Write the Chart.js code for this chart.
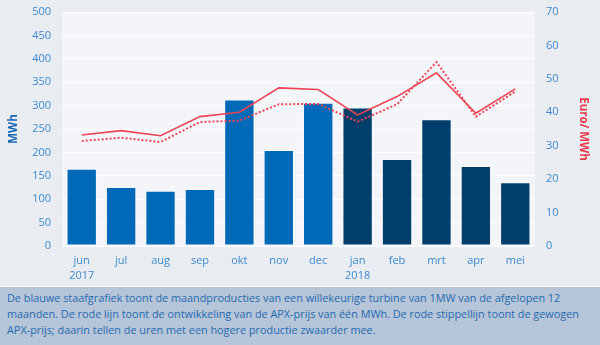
<!DOCTYPE html>
<html>
<head>
<meta charset="utf-8">
<script src="https://cdn.jsdelivr.net/npm/chart.js@4/dist/chart.umd.min.js"></script>
<style>
  html, body { margin: 0; padding: 0; width: 600px; height: 345px; overflow: hidden; background: #e9ecf0; }
  #wrap { position: relative; width: 600px; height: 286px; }
  #sep { height: 1px; background: #ffffff; }
  #cap { height: 58px; background: #b6c5d7; color: #1f6bb3; font-family: "Open Sans", sans-serif; font-size: 10.85px; line-height: 16px; padding: 3px 10px 0 7px; box-sizing: border-box; }
</style>
</head>
<body>
<div id="wrap"><canvas id="c" width="600" height="286"></canvas></div>
<div id="sep"></div>
<div id="cap">De blauwe staafgrafiek toont de maandproducties van een willekeurige turbine van 1MW van de afgelopen 12 maanden. De rode lijn toont de ontwikkeling van de APX-prijs van één MWh. De rode stippellijn toont de gewogen APX-prijs; daarin tellen de uren met een hogere productie zwaarder mee.</div>
<script>
const months = [['jun','2017'],'jul','aug','sep','okt','nov','dec',['jan','2018'],'feb','mrt','apr','mei'];
const production = [165, 126, 118, 122, 313, 205, 306, 296, 186, 271, 171, 136];
const apxPrice = [33.2, 34.5, 33.0, 38.7, 40.0, 47.3, 46.8, 39.2, 44.7, 51.8, 39.7, 47.0];
const apxWeighted = [31.4, 32.4, 31.1, 37.1, 37.5, 42.4, 42.5, 37.2, 42.4, 55.0, 38.7, 46.2];
const barColors = ['#006ab9','#006ab9','#006ab9','#006ab9','#006ab9','#006ab9','#006ab9','#003e6c','#003e6c','#003e6c','#003e6c','#003e6c'];

const bgPlugin = {
  id: 'bg',
  beforeDraw(chart) {
    const {ctx, chartArea: a} = chart;
    ctx.save();
    ctx.fillStyle = '#e9ecf0';
    ctx.fillRect(0, 0, chart.width, chart.height);
    ctx.fillStyle = '#f4f5f9';
    ctx.fillRect(a.left, a.top, a.right - a.left, a.bottom - a.top);
    ctx.restore();
  }
};

const tickFont = { family: '"Open Sans", sans-serif', size: 11 };
new Chart(document.getElementById('c'), {
  type: 'bar',
  data: {
    labels: months,
    datasets: [
      { type: 'line', data: apxPrice, yAxisID: 'y1', borderColor: '#ee4453', borderWidth: 1.6, pointRadius: 0, fill: false, tension: 0, order: 1 },
      { type: 'line', data: apxWeighted, yAxisID: 'y1', borderColor: '#ee4453', borderWidth: 2, borderDash: [2, 2], pointRadius: 0, fill: false, tension: 0, order: 2 },
      { type: 'bar', data: production, yAxisID: 'y', backgroundColor: barColors, borderColor: 'rgba(255,255,255,0.35)', borderWidth: 1, borderSkipped: false, barPercentage: 0.77, categoryPercentage: 1, order: 3 }
    ]
  },
  options: {
    responsive: false,
    animation: false,
    layout: { padding: { top: 12, left: 0, right: 0, bottom: 0 } },
    plugins: { legend: { display: false }, tooltip: { enabled: false } },
    scales: {
      x: {
        grid: { display: false },
        border: { display: false },
        ticks: { color: '#3b8ad0', font: { family: '"Open Sans", sans-serif', size: 11, lineHeight: 1.3 }, padding: 0, maxRotation: 0, autoSkip: false },
        afterFit(s) { s.height = 40; }
      },
      y: {
        position: 'left', min: 0, max: 500,
        grid: { color: '#ffffff', lineWidth: 1, drawTicks: false },
        border: { display: false },
        ticks: { stepSize: 50, color: '#3b8ad0', font: tickFont, padding: 11 },
        title: { display: true, text: 'MWh', color: '#1767b6', font: { family: '"Open Sans", sans-serif', size: 11.5, weight: 'bold' }, padding: { top: 7, bottom: 0 } },
        afterFit(s) { s.width = 62; s.paddingTop = 0; s.paddingBottom = 0; }
      },
      y1: {
        position: 'right', min: 0, max: 70,
        grid: { display: false, drawTicks: false },
        border: { display: false },
        ticks: { stepSize: 10, color: '#3b8ad0', font: tickFont, padding: 11 },
        title: { display: true, text: 'Euro/ MWh', color: '#e8394a', font: { family: '"Open Sans", sans-serif', size: 11.5, weight: 'bold' }, padding: { top: 10, bottom: 0 } },
        afterFit(s) { s.width = 65; s.paddingTop = 0; s.paddingBottom = 0; }
      }
    }
  },
  plugins: [bgPlugin]
});
</script>
</body>
</html>
